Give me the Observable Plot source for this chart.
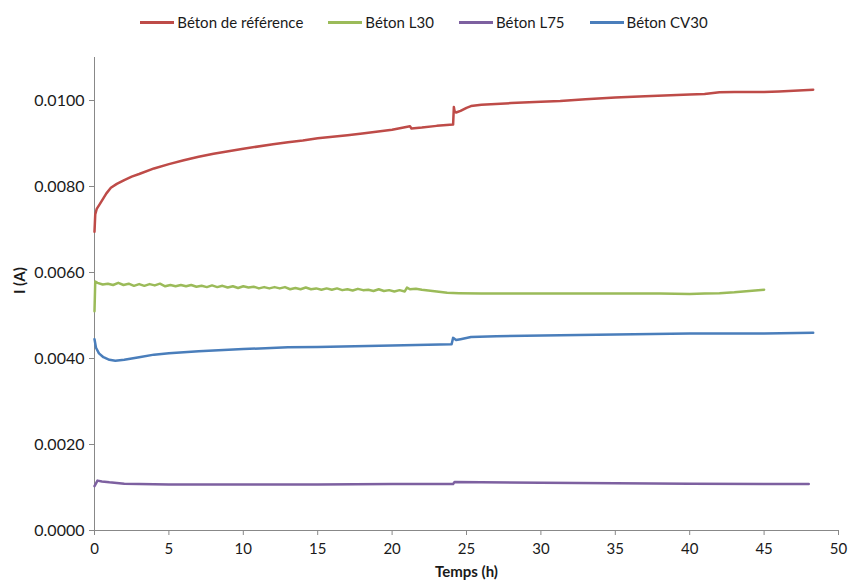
<!DOCTYPE html>
<html><head><meta charset="utf-8">
<script src="https://cdn.jsdelivr.net/npm/d3@7"></script>
<script src="https://cdn.jsdelivr.net/npm/@observablehq/plot@0.6"></script>
<style>
body{margin:0;background:#fff;font-family:Lato,"Open Sans",sans-serif;}
#legend{height:44px;display:flex;justify-content:center;align-items:center;gap:25px;font-size:15px;color:#1a1a1a;width:848px}
.item{display:flex;align-items:center;gap:3px}
.sw{width:34px;height:3px;display:inline-block}
</style></head>
<body>
<div id="legend"></div>
<div id="chart"></div>
<script>
const seriesNames = ["Béton de référence", "Béton L30", "Béton L75", "Béton CV30"];
const seriesColors = ["#BE4B48", "#9BBB59", "#7D60A0", "#4A7EBB"];
const xTicks = [0, 5, 10, 15, 20, 25, 30, 35, 40, 45, 50];
const yTicks = [0, 0.002, 0.004, 0.006, 0.008, 0.010];

const refT = [0, 0.05, 0.15, 0.3, 0.5, 0.8, 1.1, 1.5, 2, 2.5, 3, 4, 5, 6, 7, 8, 9, 10, 12, 13, 14, 15, 17, 18, 20, 21.2, 21.3, 22, 23, 24.1, 24.15, 24.2, 24.3, 24.6, 25, 25.3, 26, 28, 30, 31.3, 33, 35, 37, 40, 41, 42, 43, 45, 46, 48.3];
const refI = [0.00695, 0.00735, 0.00748, 0.00756, 0.00767, 0.00784, 0.00797, 0.00806, 0.00815, 0.00823, 0.00829, 0.00842, 0.00852, 0.00861, 0.00869, 0.00876, 0.00882, 0.00888, 0.00898, 0.00903, 0.00907, 0.00912, 0.00919, 0.00923, 0.00932, 0.00940, 0.00935, 0.00937, 0.00941, 0.00944, 0.00985, 0.00975, 0.00972, 0.00976, 0.00983, 0.00987, 0.00990, 0.00994, 0.00997, 0.00999, 0.01003, 0.01007, 0.01010, 0.01014, 0.01015, 0.01019, 0.01020, 0.01020, 0.01021, 0.01025];

const l30T = [0, 0.05, 0.2, 0.55, 0.9, 1.25, 1.6, 1.95, 2.3, 2.65, 3.0, 3.35, 3.7, 4.05, 4.4, 4.75, 5.1, 5.45, 5.8, 6.15, 6.5, 6.85, 7.2, 7.55, 7.9, 8.25, 8.6, 8.95, 9.3, 9.65, 10.0, 10.35, 10.7, 11.05, 11.4, 11.75, 12.1, 12.45, 12.8, 13.15, 13.5, 13.85, 14.2, 14.55, 14.9, 15.25, 15.6, 15.95, 16.3, 16.65, 17.0, 17.35, 17.7, 18.05, 18.4, 18.75, 19.1, 19.45, 19.8, 20.15, 20.5, 20.85, 21.0, 21.2, 21.6, 22.0, 23.0, 23.7, 24.5, 26, 28, 30, 32, 35, 38, 40, 41, 42, 43, 44, 45];
const l30I = [0.00510, 0.00579, 0.00576, 0.00572, 0.00574, 0.00571, 0.00576, 0.00571, 0.00574, 0.00569, 0.00573, 0.00569, 0.00573, 0.00570, 0.00574, 0.00568, 0.00571, 0.00568, 0.00571, 0.00568, 0.00571, 0.00567, 0.00569, 0.00566, 0.00570, 0.00566, 0.00569, 0.00565, 0.00568, 0.00564, 0.00568, 0.00565, 0.00567, 0.00563, 0.00566, 0.00563, 0.00566, 0.00563, 0.00566, 0.00561, 0.00564, 0.00561, 0.00565, 0.00561, 0.00563, 0.00560, 0.00563, 0.00560, 0.00563, 0.00559, 0.00561, 0.00558, 0.00562, 0.00559, 0.00560, 0.00557, 0.00561, 0.00557, 0.00559, 0.00556, 0.00559, 0.00556, 0.00565, 0.00561, 0.00562, 0.00560, 0.00556, 0.00553, 0.00552, 0.00551, 0.00551, 0.00551, 0.00551, 0.00551, 0.00551, 0.00550, 0.00551, 0.00552, 0.00554, 0.00557, 0.00560];

const l75T = [0, 0.2, 0.5, 1, 2, 3, 5, 8, 10, 15, 20, 24.1, 24.2, 26, 30, 35, 40, 45, 48];
const l75I = [0.00103, 0.00116, 0.00114, 0.00112, 0.00109, 0.00108, 0.00107, 0.00107, 0.00107, 0.00107, 0.00108, 0.00108, 0.00113, 0.00112, 0.00111, 0.00110, 0.00109, 0.00108, 0.00108];

const cvT = [0, 0.1, 0.3, 0.6, 1, 1.4, 2, 3, 4, 5, 7, 10, 13, 15, 20, 24, 24.1, 24.3, 24.6, 25.3, 27, 31.3, 35, 40, 45, 48.3];
const cvI = [0.00445, 0.00425, 0.00412, 0.00403, 0.00397, 0.00395, 0.00397, 0.00403, 0.00409, 0.00412, 0.00417, 0.00422, 0.00426, 0.00427, 0.00430, 0.00433, 0.00448, 0.00443, 0.00445, 0.00450, 0.00452, 0.00454, 0.00456, 0.00458, 0.00458, 0.00460];

const allT = [refT, l30T, l75T, cvT];
const allI = [refI, l30I, l75I, cvI];
const data = [];
allT.forEach((ts, k) => ts.forEach((t, i) => data.push({t, v: allI[k][i], s: seriesNames[k]})));

const legend = document.getElementById("legend");
seriesNames.forEach((n, k) => {
  const it = document.createElement("div"); it.className = "item";
  const sw = document.createElement("span"); sw.className = "sw"; sw.style.background = seriesColors[k];
  const tx = document.createElement("span"); tx.textContent = n;
  it.append(sw, tx); legend.append(it);
});

const chart = Plot.plot({
  width: 848, height: 541,
  marginLeft: 94, marginRight: 10, marginTop: 13, marginBottom: 55,
  style: {fontFamily: "Lato, 'Open Sans', sans-serif", fontSize: "15px", color: "#1a1a1a", background: "#fff"},
  x: {domain: [0, 50], label: null},
  y: {domain: [0, 0.011], label: null},
  color: {domain: seriesNames, range: seriesColors},
  marks: [
    Plot.axisX({ticks: xTicks, tickSize: 5, tickPadding: 8, stroke: "#888", label: null}),
    Plot.axisY({ticks: yTicks, tickSize: 5, tickPadding: 5, tickFormat: d3.format(".4f"), stroke: "#888", label: null, fontSize: 16}),
    Plot.ruleX([0], {stroke: "#888"}),
    Plot.ruleY([0], {stroke: "#888"}),
    Plot.line(data, {x: "t", y: "v", z: "s", stroke: "s", strokeWidth: 2.5}),
    Plot.text(["Temps (h)"], {frameAnchor: "bottom", dy: 46, fontWeight: "bold", fontSize: 15}),
    Plot.text(["I (A)"], {frameAnchor: "left", dx: -74, rotate: -90, fontWeight: "bold", fontSize: 15})
  ]
});
document.getElementById("chart").append(chart);
</script>
</body></html>
